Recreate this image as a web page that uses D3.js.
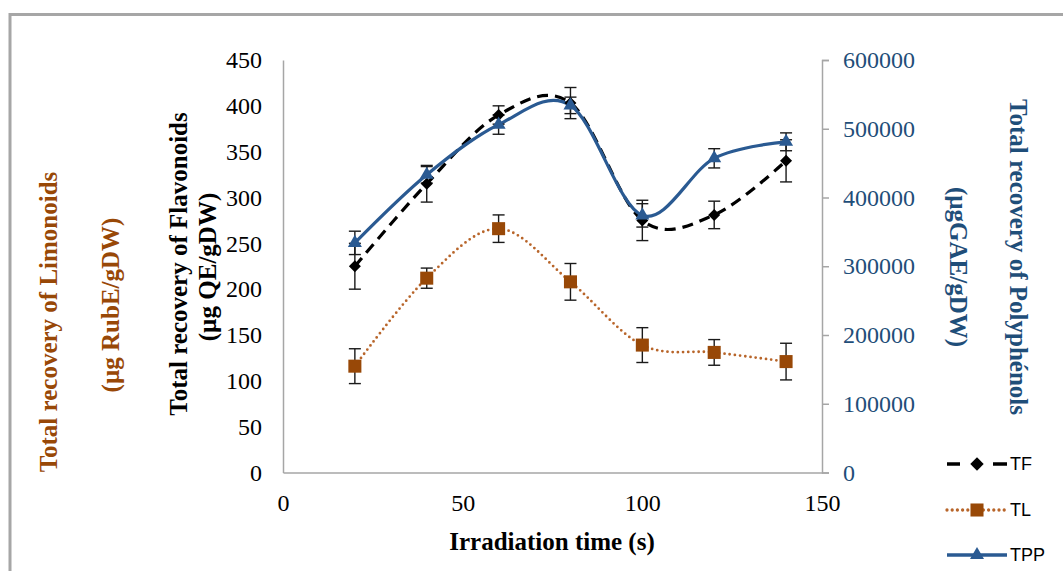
<!DOCTYPE html>
<html>
<head>
<meta charset="utf-8">
<script src="https://cdn.jsdelivr.net/npm/d3@7"></script>
<style>
  body { margin: 0; background: #fff; }
  svg { font-family: "Liberation Serif", "Times New Roman", serif; }
</style>
</head>
<body>
<svg id="chart" width="1063" height="571"></svg>
<script>
// irradiation times (s)
const times = [20, 40, 60, 80, 100, 120, 140];
// TF: total flavonoids (µg QE/gDW)
const tf = [225, 315, 390, 403, 275, 281, 340];
const tfErr = [25, 20, 10, 17, 22, 15, 23];
// TL: total limonoids (µg RubE/gDW)
const tl = [116, 212, 266, 208, 139, 131, 121];
const tlErr = [19, 11, 15, 20, 19, 14, 20];
// TPP: total polyphenols (µgGAE/gDW)
const tpp = [334000, 433000, 506000, 534000, 374000, 457000, 481000];
const tppErr = [17000, 12000, 14000, 12000, 17000, 14000, 13000];

const xTicks = [0, 50, 100, 150];
const leftTicks = [0, 50, 100, 150, 200, 250, 300, 350, 400, 450];
const rightTicks = [0, 100000, 200000, 300000, 400000, 500000, 600000];

const svg = d3.select("#chart");

const plot = { left: 283, right: 822, top: 60, bottom: 472.5 };
const x = d3.scaleLinear().domain([0, 150]).range([plot.left, plot.right]);
const yL = d3.scaleLinear().domain([0, 450]).range([plot.bottom, plot.top]);
const yR = d3.scaleLinear().domain([0, 600000]).range([plot.bottom, plot.top]);

const grey = "#a6a6a6";
const brown = "#984807";
const blue = "#2a5a92";
const blueText = "#1f4e79";

// outer frame
svg.append("rect")
    .attr("x", 10).attr("y", 14.5)
    .attr("width", 1200).attr("height", 700)
    .attr("fill", "none")
    .attr("stroke", grey)
    .attr("stroke-width", 3);

// axes
const axL = svg.append("g")
    .attr("transform", `translate(${plot.left},0)`)
    .call(d3.axisLeft(yL).tickValues(leftTicks).tickSize(0).tickPadding(21));
const axR = svg.append("g")
    .attr("transform", `translate(${plot.right},0)`)
    .call(d3.axisRight(yR).tickValues(rightTicks).tickSize(7).tickPadding(14).tickFormat(d3.format("d")));
const axB = svg.append("g")
    .attr("transform", `translate(0,${plot.bottom})`)
    .call(d3.axisBottom(x).tickValues(xTicks).tickSize(0).tickPadding(21));

[axL, axR, axB].forEach(a => {
    a.select(".domain").attr("stroke", grey).attr("stroke-width", 1.5);
    a.selectAll(".tick line").attr("stroke", grey).attr("stroke-width", 1.5);
    a.selectAll("text")
        .attr("font-family", "Liberation Serif, Times New Roman, serif")
        .attr("font-size", 24)
        .attr("fill", "#000");
});
axR.selectAll("text").attr("fill", blueText);

// axis titles
function vtitle(txt, cx, cy, color, rot) {
    svg.append("text")
        .attr("transform", `translate(${cx},${cy}) rotate(${rot})`)
        .attr("text-anchor", "middle")
        .attr("dominant-baseline", "central")
        .attr("font-size", 25)
        .attr("font-weight", "bold")
        .attr("fill", color)
        .text(txt);
}
vtitle("Total recovery of Limonoids", 48, 322, brown, -90);
vtitle("(µg RubE/gDW)", 110, 305, brown, -90);
vtitle("Total recovery of Flavonoids", 178, 264, "#000", -90);
vtitle("(µg QE/gDW)", 207, 267, "#000", -90);
vtitle("Total recovery of Polyphénols", 1018, 257, blueText, 90);
vtitle("(µgGAE/gDW)", 958, 267, blueText, 90);

svg.append("text")
    .attr("x", 552).attr("y", 550)
    .attr("text-anchor", "middle")
    .attr("font-size", 25)
    .attr("font-weight", "bold")
    .text("Irradiation time (s)");

// series
const series = [
    { name: "TF", vals: tf, err: tfErr, y: yL, color: "#000", dash: "11,7", width: 3.2, cap: "butt",
      sym: d3.symbolSquare, size: 72, legendSize: 90, rot: 45, lineColor: "#000", legendDash: "13,33,14" },
    { name: "TL", vals: tl, err: tlErr, y: yL, color: brown, dash: "0,5.2", width: 2.8, cap: "round",
      sym: d3.symbolSquare, size: 170, legendSize: 170, rot: 0, lineColor: "#b8652a", legendDash: "0,5.2" },
    { name: "TPP", vals: tpp, err: tppErr, y: yR, color: blue, dash: null, width: 3.2, cap: "butt",
      sym: d3.symbolTriangle, size: 85, legendSize: 85, rot: 0, lineColor: blue, legendDash: null }
];

const line = (s) => d3.line()
    .x((d, i) => x(times[i]))
    .y(d => s.y(d))
    .curve(d3.curveCatmullRom.alpha(0))(s.vals);

series.forEach(s => {
    svg.append("path")
        .attr("d", line(s))
        .attr("fill", "none")
        .attr("stroke", s.lineColor)
        .attr("stroke-width", s.width)
        .attr("stroke-linecap", s.cap)
        .attr("stroke-dasharray", s.dash);
});

// error bars
series.forEach(s => {
    const g = svg.append("g").attr("stroke", "#1a1a1a").attr("stroke-width", 1.4);
    s.vals.forEach((v, i) => {
        const cx = x(times[i]);
        const y0 = s.y(v - s.err[i]), y1 = s.y(v + s.err[i]);
        g.append("line").attr("x1", cx).attr("x2", cx).attr("y1", y0).attr("y2", y1);
        g.append("line").attr("x1", cx - 6).attr("x2", cx + 6).attr("y1", y0).attr("y2", y0);
        g.append("line").attr("x1", cx - 6).attr("x2", cx + 6).attr("y1", y1).attr("y2", y1);
    });
});

// markers
series.forEach(s => {
    svg.append("g").selectAll("path")
        .data(s.vals)
        .join("path")
        .attr("d", d3.symbol(s.sym, s.size))
        .attr("transform", (d, i) => `translate(${x(times[i])},${s.y(d)}) rotate(${s.rot})`)
        .attr("fill", s.color);
});

// legend
const legendY = [464, 510, 555];
series.forEach((s, i) => {
    const ly = legendY[i];
    const g = svg.append("g");
    g.append("line")
        .attr("x1", 947).attr("x2", 1007).attr("y1", ly).attr("y2", ly)
        .attr("stroke", s.lineColor)
        .attr("stroke-width", s.width + 0.5)
        .attr("stroke-linecap", s.cap)
        .attr("stroke-dasharray", s.legendDash);
    g.append("path")
        .attr("d", d3.symbol(s.sym, s.legendSize))
        .attr("transform", `translate(977,${ly}) rotate(${s.rot})`)
        .attr("fill", s.color);
    g.append("text")
        .attr("x", 1010).attr("y", ly)
        .attr("dominant-baseline", "central")
        .attr("font-family", "Liberation Sans, Arial, sans-serif")
        .attr("font-size", 18)
        .text(s.name);
});
</script>
</body>
</html>
